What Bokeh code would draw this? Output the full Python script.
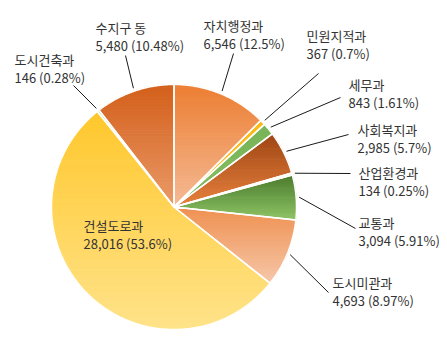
import numpy as np
from bokeh.plotting import figure
from bokeh.models import Range1d
from bokeh.embed import file_html
from bokeh.resources import INLINE
from bokeh.core.properties import value

# ---- data (clockwise from 12 o'clock) ----
names = ["자치행정과", "민원지적과", "세무과", "사회복지과", "산업환경과",
         "교통과", "도시미관과", "건설도로과", "도시건축과", "수지구 동"]
values = [6546, 367, 843, 2985, 134, 3094, 4693, 28016, 146, 5480]
pct_labels = ["12.5%", "0.7%", "1.61%", "5.7%", "0.25%",
              "5.91%", "8.97%", "53.6%", "0.28%", "10.48%"]

# ---- styles ----
top_colors = ["#EC7E32", "#FDB913", "#79B457", "#9E4614", "#F3D9A4",
              "#4B7B2D", "#EF9050", "#FFC72C", "#A9D18E", "#D35F1A"]
bottom_colors = ["#F5BA95", "#FDC02A", "#86BE63", "#E8823E", "#F3D9A4",
                 "#8FC466", "#F6C7A8", "#FFE38A", "#A9D18E", "#EA9A68"]

# ---- layout (pixel space, y down) ----
CX, CY, R = 173.5, 206.5, 122.5
label_pos = [(203, 25), (306, 35), (348, 84), (357, 129), (358, 172),
             (358, 222), (332, 282), (83, 225), (14, 59), (95, 27)]
leader_end = [(233, 53), (318, 73), (340, 97), (348, 134), (350, 173),
              (355, 228), (328, 292), None, (73, 85), (125, 55)]
LINE_GAP = 18


def hex2rgb(h):
    h = h.lstrip("#")
    return [int(h[i:i + 2], 16) for i in (0, 2, 4)]


def mix(c1, c2, f):
    a, b = hex2rgb(c1), hex2rgb(c2)
    return "#%02x%02x%02x" % tuple(int(round(a[i] + (b[i] - a[i]) * f)) for i in range(3))


def clip(poly, y0, y1):
    def clip_edge(pts, keep, inter):
        out = []
        n = len(pts)
        for i in range(n):
            cur, prev = pts[i], pts[i - 1]
            if keep(cur):
                if not keep(prev):
                    out.append(inter(prev, cur))
                out.append(cur)
            elif keep(prev):
                out.append(inter(prev, cur))
        return out

    def ix(yc):
        def f(p, q):
            t = (yc - p[1]) / (q[1] - p[1])
            return (p[0] + t * (q[0] - p[0]), yc)
        return f

    pts = clip_edge(poly, lambda p: p[1] >= y0, ix(y0))
    if not pts:
        return []
    pts = clip_edge(pts, lambda p: p[1] <= y1, ix(y1))
    return pts


total = float(sum(values))
fracs = np.array(values) / total
cum = np.concatenate([[0], np.cumsum(fracs)])

p = figure(width=447, height=355, x_range=Range1d(0, 447), y_range=Range1d(355, 0),
           x_axis_type=None, y_axis_type=None, toolbar_location=None,
           output_backend="svg", min_border=0)
p.grid.visible = False
p.outline_line_color = None

band_xs, band_ys, band_cols = [], [], []
full_xs, full_ys = [], []
for i in range(len(values)):
    t0, t1 = cum[i] * 2 * np.pi, cum[i + 1] * 2 * np.pi
    n = max(3, int((t1 - t0) / np.radians(0.5)))
    ts = np.linspace(t0, t1, n)
    poly = [(CX, CY)] + [(CX + R * np.sin(t), CY - R * np.cos(t)) for t in ts]
    full_xs.append([q[0] for q in poly])
    full_ys.append([q[1] for q in poly])
    ymin = min(q[1] for q in poly)
    ymax = max(q[1] for q in poly)
    nb = 40
    edges = np.linspace(ymin, ymax, nb + 1)
    for b in range(nb):
        seg = clip(poly, edges[b] - 0.3, edges[b + 1] + 0.3)
        if len(seg) < 3:
            continue
        band_xs.append([q[0] for q in seg])
        band_ys.append([q[1] for q in seg])
        band_cols.append(mix(top_colors[i], bottom_colors[i], (b + 0.5) / nb))

p.patches(band_xs, band_ys, fill_color=band_cols, line_color=band_cols, line_width=0.5)
p.patches(full_xs, full_ys, fill_alpha=0, line_color="white", line_width=1.5)

# leaders
x0s, y0s, x1s, y1s = [], [], [], []
for i in range(len(values)):
    if leader_end[i] is None:
        continue
    tm = (cum[i] + cum[i + 1]) * np.pi
    x0s.append(CX + (R + 3) * np.sin(tm))
    y0s.append(CY - (R + 3) * np.cos(tm))
    x1s.append(leader_end[i][0])
    y1s.append(leader_end[i][1])
p.segment(x0s, y0s, x1s, y1s, line_color="#1a1a1a", line_width=1)

# labels
lx = [q[0] for q in label_pos]
ly1 = [q[1] for q in label_pos]
ly2 = [q[1] + LINE_GAP for q in label_pos]
line2 = ["{:,} ({})".format(v, s) for v, s in zip(values, pct_labels)]
common = dict(text_font=value("Noto Sans CJK KR"), text_font_size="13px",
              text_color="#333333", text_align="left", text_baseline="middle")
p.text(lx, ly1, text=names, **common)
p.text(lx, ly2, text=line2, **common)

open("out.html", "w").write(file_html(p, INLINE))
